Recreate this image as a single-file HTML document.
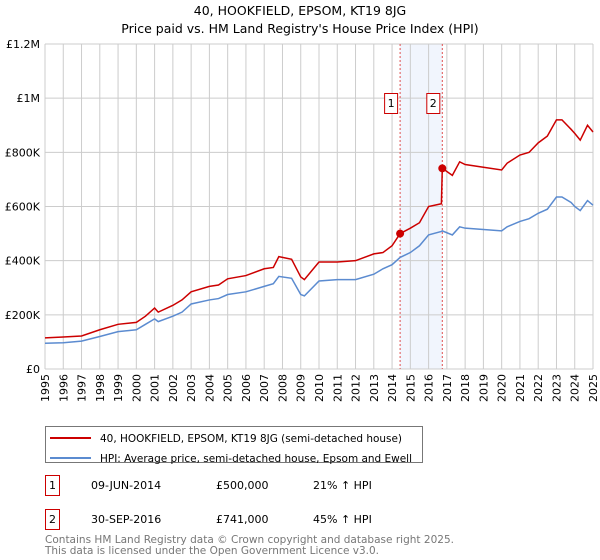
<!DOCTYPE html>
<html><head><meta charset="utf-8"><style>
body{margin:0;width:600px;height:560px;background:#fff;font-family:"DejaVu Sans","Liberation Sans",sans-serif;overflow:hidden}
svg{position:absolute;left:0;top:0}
</style></head><body>
<svg id="c" width="600" height="560" font-family="DejaVu Sans, Liberation Sans, sans-serif">
<text x="300" y="15" text-anchor="middle" font-size="12.5">40, HOOKFIELD, EPSOM, KT19 8JG</text>
<text x="300" y="33" text-anchor="middle" font-size="12.5">Price paid vs. HM Land Registry's House Price Index (HPI)</text>
<g id="grid"></g>
<g id="marks"></g>
<g id="axes"></g>
<g>
<rect x="45.5" y="426.5" width="377" height="36" fill="#fff" stroke="#777"/>
<line x1="50" y1="438" x2="91" y2="438" stroke="#cc0000" stroke-width="2"/>
<text x="100" y="442" font-size="10.5" textLength="302" lengthAdjust="spacingAndGlyphs">40, HOOKFIELD, EPSOM, KT19 8JG (semi-detached house)</text>
<line x1="50" y1="458" x2="91" y2="458" stroke="#5b8bd0" stroke-width="2"/>
<text x="100" y="462" font-size="10.5" textLength="312" lengthAdjust="spacingAndGlyphs">HPI: Average price, semi-detached house, Epsom and Ewell</text>
</g>
<g font-size="11">
<rect x="45.5" y="475.5" width="14" height="20" fill="#fff" stroke="#cc0000"/>
<text x="52.5" y="489" text-anchor="middle">1</text>
<text x="91" y="489">09-JUN-2014</text>
<text x="216" y="489">£500,000</text>
<text x="313" y="489">21% ↑ HPI</text>
<rect x="45.5" y="509.5" width="14" height="20" fill="#fff" stroke="#cc0000"/>
<text x="52.5" y="523" text-anchor="middle">2</text>
<text x="91" y="523">30-SEP-2016</text>
<text x="216" y="523">£741,000</text>
<text x="313" y="523">45% ↑ HPI</text>
</g>
<text x="45" y="543" font-size="10.5" textLength="409" lengthAdjust="spacingAndGlyphs" fill="#777">Contains HM Land Registry data © Crown copyright and database right 2025.</text>
<text x="45" y="554" font-size="10.5" textLength="334" lengthAdjust="spacingAndGlyphs" fill="#777">This data is licensed under the Open Government Licence v3.0.</text>
</svg>
<script>
const dates=[1995,1996,1997,1998,1999,2000,2000.5,2001,2001.2,2002,2002.5,2003,2004,2004.5,2005,2006,2007,2007.5,2007.8,2008.5,2009,2009.2,2010,2011,2012,2013,2013.5,2014,2014.44,2015,2015.5,2016,2016.7,2016.75,2017.3,2017.7,2018,2019,2020,2020.3,2021,2021.5,2022,2022.5,2023,2023.3,2023.8,2024,2024.3,2024.7,2025];
const hpiValues=[95,97,103,120,138,145,165,185,175,195,210,240,255,260,275,285,305,315,342,335,275,270,325,330,330,350,370,385,412,430,455,495,508,510,495,525,520,515,510,525,545,555,575,590,635,635,615,600,585,622,605];
const priceValues=[115,118,122,145,165,172,195,225,210,235,255,285,305,310,333,345,370,375,415,405,340,330,395,395,400,425,430,455,500,520,540,600,610,741,715,765,755,745,735,760,790,800,835,860,920,920,885,870,845,900,875];
const saleDates=[2014.44,2016.75];
const salePrices=[500,741];
const saleLabels=["1","2"];
const yTicks=[0,200,400,600,800,1000,1200];
const yTickLabels=["£0","£200K","£400K","£600K","£800K","£1M","£1.2M"];
const xYears=[];for(let y=1995;y<=2025;y++)xYears.push(y);

const X0=45,X1=593,Y0=369,Y1=44;
const sx=v=>X0+(v-1995)/(2025-1995)*(X1-X0);
const sy=v=>Y0-v/1200*(Y0-Y1);
const NS="http://www.w3.org/2000/svg";
function mk(p,t,a){const e=document.createElementNS(NS,t);for(const k in a)e.setAttribute(k,a[k]);p.appendChild(e);return e;}
const grid=document.getElementById('grid'),marks=document.getElementById('marks'),axes=document.getElementById('axes');
const sh=mk(grid,'rect',{x:sx(saleDates[0]),y:Y1,width:sx(saleDates[1])-sx(saleDates[0]),height:Y0-Y1,fill:'#eef3fc',opacity:0.8});


xYears.forEach(y=>{const l=mk(grid,'line',{x1:sx(y),x2:sx(y),y1:Y1,y2:Y0,stroke:'#ccc'});


const t=mk(axes,'text',{x:0,y:0,'font-size':11,'text-anchor':'end',transform:`translate(${sx(y)+4},${Y0+5}) rotate(-90)`});t.textContent=y;

});
yTicks.forEach((v,i)=>{const l=mk(grid,'line',{x1:X0,x2:X1,y1:sy(v),y2:sy(v),stroke:'#ccc'});


const t=mk(axes,'text',{x:X0-5,y:sy(v)+4,'font-size':11,'text-anchor':'end'});t.textContent=yTickLabels[i];

});
saleDates.forEach((d,i)=>{const l=mk(marks,'line',{x1:sx(d),x2:sx(d),y1:Y1,y2:Y0,stroke:'#e05050','stroke-dasharray':'2,2'});

});
const pts=a=>a.map((v,i)=>sx(dates[i])+','+sy(v)).join(' ');
const h=mk(marks,'polyline',{points:pts(hpiValues),fill:'none',stroke:'#5b8bd0','stroke-width':1.5});


const p=mk(marks,'polyline',{points:pts(priceValues),fill:'none',stroke:'#cc0000','stroke-width':1.5});


saleDates.forEach((d,i)=>{const c=mk(marks,'circle',{cx:sx(d),cy:sy(salePrices[i]),r:4,fill:'#cc0000'});


const bx=sx(d)-15;
const r=mk(marks,'rect',{x:bx-0.5,y:93.5,width:13,height:20,fill:'#fff',stroke:'#cc0000'});


const t=mk(marks,'text',{x:bx+6,y:107,'font-size':11,'text-anchor':'middle'});t.textContent=saleLabels[i];

});
</script>
</body></html>
